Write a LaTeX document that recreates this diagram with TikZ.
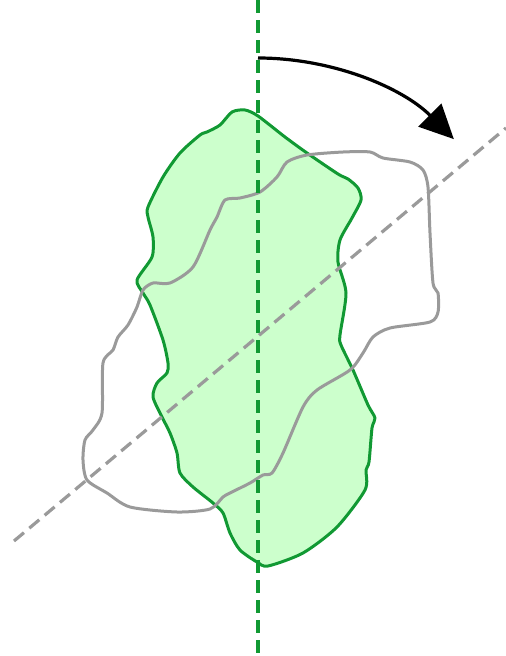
\documentclass[tikz,border=0pt]{standalone}
\usetikzlibrary{arrows.meta}
\definecolor{grn}{HTML}{119933}
\definecolor{grnfill}{HTML}{CCFFCC}
\definecolor{gry}{HTML}{9A9A9A}
\tikzset{
  blob/.style={draw=grn, fill=grnfill, line width=3pt, line join=round},
  ghost/.style={draw=gry, line width=3pt, line join=round},
  axisv/.style={draw=grn, line width=3.2pt, dash pattern=on 13pt off 7pt},
  axisd/.style={draw=gry, line width=3.2pt, dash pattern=on 13pt off 7pt},
  turn/.style={draw=black, line width=3.2pt, -{Triangle[length=34pt,width=32pt]}}
}
\begin{document}
\begin{tikzpicture}[x=1pt,y=-1pt]
\useasboundingbox (0,0) rectangle (506,656);
% green shape
\draw[blob] plot[smooth cycle, tension=0.45] coordinates {
(232,112) (245,110) (258,116) (285,137) (307,153) (338,174) (348,179) (358,188) (361,200) (352,218) (340,240) (338,262) (346,293) (340,335) (341,345) (353,370) (368,405) (375,418) (372,428) (369,462) (366,470) (365,490) (337,527) (303,553) (268,566) (257,562) (240,550) (230,533) (223,513) (213,503) (193,487) (180,473) (177,453) (170,433) (162,417) (153,397) (157,383) (167,373) (168,363) (163,340) (150,305) (143,293) (137,280) (152,257) (153,237) (148,217) (148,207) (163,177) (180,153) (200,135) (207,132) (220,125)};
% gray rotated outline
\draw[ghost] plot[smooth cycle, tension=0.45] coordinates {
(143,290) (153,283) (170,283) (193,267) (210,230) (217,217) (225,200) (240,198) (260,192) (277,177) (287,162) (307,155) (343,152) (370,152) (383,158) (410,162) (423,170) (428,187) (430,233) (433,283) (438,293) (438,312) (430,322) (390,328) (373,337) (363,353) (350,370) (317,390) (303,407) (283,453) (272,473) (263,475) (250,483) (230,493) (223,497) (210,509) (177,512) (130,507) (107,493) (87,480) (83,460) (85,440) (93,430) (102,413) (103,363) (113,350) (118,337) (128,325) (137,307)};
% axes
\coordinate (c) at (258,335);
\coordinate (vtop) at (258,0);
\coordinate (vbot) at (258,656);
\coordinate (dlo) at (14,541);
\coordinate (dhi) at (506,128);
\draw[axisv] (vtop) -- (vbot);
\draw[axisd] (dlo) -- (dhi);
% rotation arrow
\coordinate (astart) at (258,58);
\draw[turn] (astart) arc[start angle=-90, end angle=-45, radius=277];
\end{tikzpicture}
\end{document}
